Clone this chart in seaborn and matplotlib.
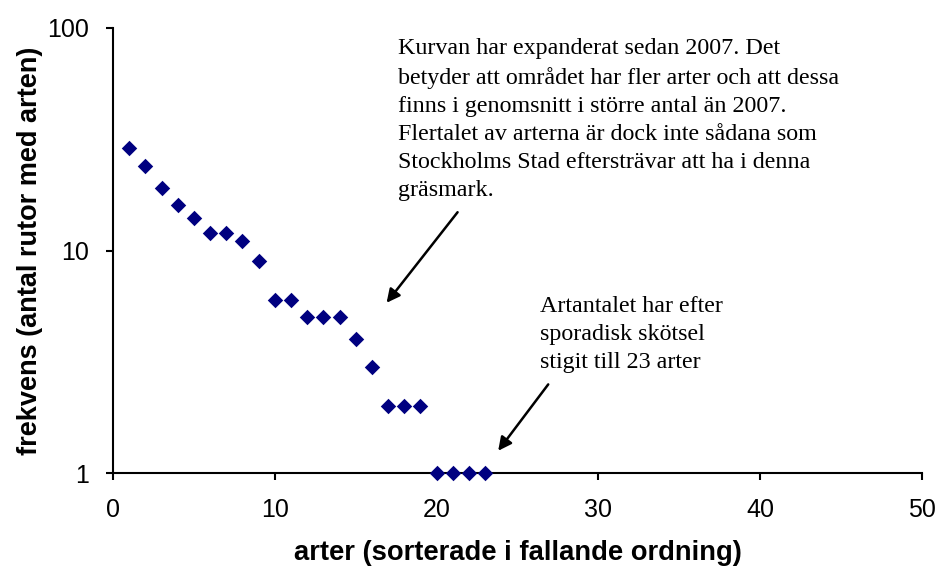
import numpy as np
import pandas as pd
import matplotlib
matplotlib.use("Agg")
import matplotlib.pyplot as plt
import seaborn as sns
from matplotlib.ticker import FixedLocator, NullLocator

# species rank and frequency (number of plots with the species)
rank = list(range(1, 24))
freq = [29, 24, 19, 16, 14, 12, 12, 11, 9, 6, 6, 5, 5, 5, 4, 3, 2, 2, 2, 1, 1, 1, 1]
x_ticks = [0, 10, 20, 30, 40, 50]
y_ticks = [1, 10, 100]

note_top = ("Kurvan har expanderat sedan 2007. Det\n"
            "betyder att området har fler arter och att dessa\n"
            "finns i genomsnitt i större antal än 2007.\n"
            "Flertalet av arterna är dock inte sådana som\n"
            "Stockholms Stad eftersträvar att ha i denna\n"
            "gräsmark.")
note_bottom = ("Artantalet har efter\n"
               "sporadisk skötsel\n"
               "stigit till 23 arter")

df = pd.DataFrame({"rank": rank, "freq": freq})

sns.set_style("white")
plt.rcParams['font.family'] = ['Liberation Sans', 'DejaVu Sans']
plt.rcParams['text.color'] = 'black'
plt.rcParams['axes.labelcolor'] = 'black'

fig = plt.figure(figsize=(9.38, 5.69), dpi=100)
ax = fig.add_axes([0.1205, 0.1687, 0.8625, 0.7821])

sns.scatterplot(data=df, x="rank", y="freq", marker="D", s=62,
                color="#000080", edgecolor="#000080", linewidth=0, ax=ax, zorder=3, clip_on=False)

ax.set_yscale("log")
ax.set_xlim(0, 50)
ax.set_ylim(1, 100)
ax.xaxis.set_major_locator(FixedLocator(x_ticks))
ax.yaxis.set_major_locator(FixedLocator(y_ticks))
ax.yaxis.set_minor_locator(NullLocator())
ax.set_xticklabels([str(t) for t in x_ticks])
ax.set_yticklabels([str(t) for t in y_ticks])
ax.tick_params(axis="both", direction="out", length=5, width=1.5, labelsize=18,
               colors="black", bottom=True, left=True)
ax.tick_params(axis="x", pad=13)
ax.tick_params(axis="y", pad=12)

for side in ["top", "right"]:
    ax.spines[side].set_visible(False)
for side in ["left", "bottom"]:
    ax.spines[side].set_linewidth(1.5)
    ax.spines[side].set_color("black")

ax.set_xlabel("arter (sorterade i fallande ordning)", fontsize=19.7, fontweight="bold", labelpad=13)
ax.set_ylabel("frekvens (antal rutor med arten)", fontsize=19.5, fontweight="bold", labelpad=3)

serif = ['Liberation Serif', 'DejaVu Serif']
ax.text(17.6, 10 ** ((473 - 38) / 222.5), note_top, family=serif, fontsize=17.3,
        va="top", ha="left", linespacing=1.45)
ax.text(26.4, 10 ** ((473 - 296) / 222.5), note_bottom, family=serif, fontsize=17.3,
        va="top", ha="left", linespacing=1.45)

arrow = dict(arrowstyle="-|>", color="black", lw=1.8, mutation_scale=20)
ax.annotate("", xy=(16.8, 5.69), xytext=(21.4, 15.2), arrowprops=arrow)
ax.annotate("", xy=(23.7, 1.23), xytext=(27.0, 2.56), arrowprops=arrow)

fig.savefig("out.png", dpi=100)
